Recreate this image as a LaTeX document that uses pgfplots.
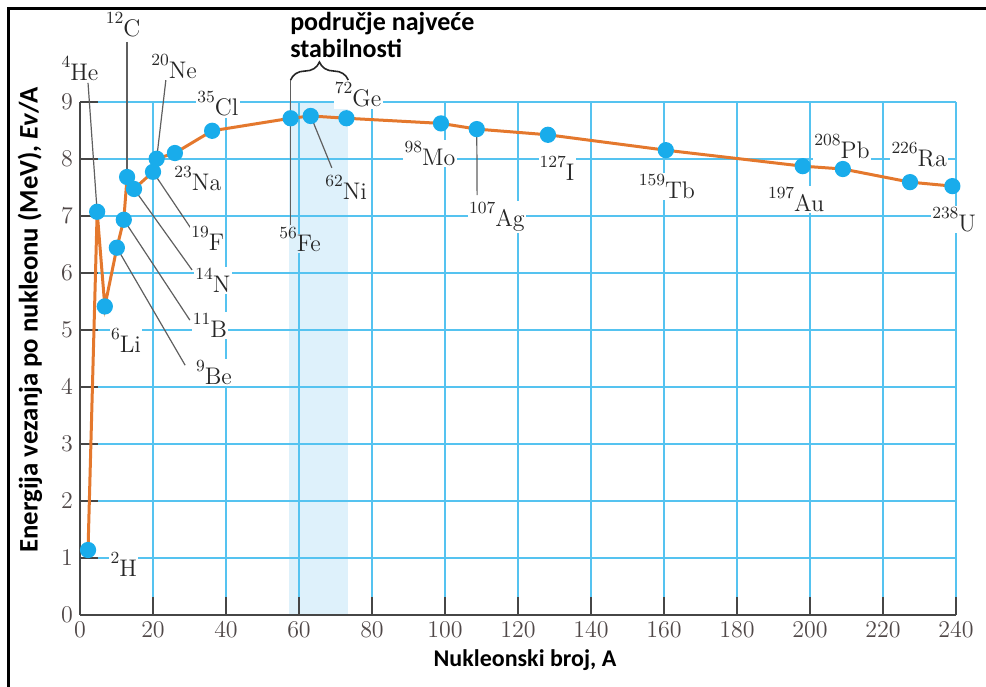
\documentclass[border=0pt]{standalone}
\usepackage{pgfplots}
\pgfplotsset{compat=1.18}
\usepackage{pgfplotstable}
\usepackage{fontspec}
\newfontfamily\carlito{Carlito}
\usetikzlibrary{decorations.pathreplacing}

\definecolor{gridblue}{RGB}{85,195,240}
\definecolor{shade}{RGB}{222,241,251}
\definecolor{curve}{RGB}{228,120,45}
\definecolor{dot}{RGB}{25,172,235}
\definecolor{axgray}{RGB}{70,70,70}
\definecolor{lead}{RGB}{95,95,95}
\definecolor{tickgray}{RGB}{80,72,72}

% nuclide label: mass number raised in front of the symbol
\newcommand\nuc[2]{\raisebox{6.5pt}{\fontsize{8.5}{8.5}\selectfont #1}#2}
\tikzset{lbl/.style={fill=white, inner sep=0.6pt, text=black!85,
    font=\fontsize{12}{12}\selectfont}}

\pgfplotstableread{
A E
2.2 1.14
4.7 7.07
6.8 5.41
10.1 6.44
12.0 6.93
12.9 7.68
14.8 7.47
20.0 7.77
21.0 8.00
26.0 8.10
36.2 8.49
57.7 8.71
63.2 8.75
73.0 8.71
98.9 8.62
108.7 8.52
128.2 8.42
160.5 8.15
198.0 7.87
209.0 7.82
227.4 7.59
239.0 7.52
}\bindata

\begin{document}
\begin{tikzpicture}
\begin{axis}[
    at={(0,0)}, anchor=south west,
    scale only axis, width=438pt, height=256.65pt,
    xmin=0, xmax=240, ymin=0, ymax=9,
    xtick={0,20,...,240}, ytick={0,1,...,9},
    axis lines*=left,
    axis line style={axgray, line width=1.3pt},
    tick align=inside,
    major tick length=9pt,
    tick style={axgray, line width=0.9pt},
    grid=major,
    major grid style={gridblue, line width=1pt},
    ticklabel style={font=\fontsize{12}{12}\selectfont, text=tickgray},
    xlabel={Nukleonski broj, A},
    ylabel={Energija vezanja po nukleonu (MeV), \textit{Ev}/A},
    xlabel style={font=\carlito\bfseries\fontsize{12}{12}\selectfont,
        at={(axis description cs:0.508,-0.0877)}, anchor=center},
    ylabel style={font=\carlito\bfseries\fontsize{13.4}{13.4}\selectfont,
        at={(axis description cs:-0.057,0.575)}, anchor=center},
    clip=false,
    set layers,
]

% region of greatest stability
\addplot[fill=shade, draw=none, on layer=axis background]
    coordinates {(57.2,0) (73.3,0) (73.3,9) (57.2,9)};

% leader lines
\draw[lead, line width=0.6pt] (axis cs:2.2,9.33) -- (axis cs:4.7,7.07);
\draw[lead, line width=0.6pt] (axis cs:12.9,10.05) -- (axis cs:12.9,7.68);
\draw[lead, line width=0.6pt] (axis cs:23.6,9.42) -- (axis cs:21.0,8.00);
\draw[lead, line width=0.6pt] (axis cs:20.0,7.77) -- (axis cs:30.7,6.75);
\draw[lead, line width=0.6pt] (axis cs:14.8,7.47) -- (axis cs:30.7,6.05);
\draw[lead, line width=0.6pt] (axis cs:12.0,6.93) -- (axis cs:30.1,5.17);
\draw[lead, line width=0.6pt] (axis cs:10.1,6.44) -- (axis cs:28.8,4.38);
\draw[lead, line width=0.6pt] (axis cs:57.7,9.40) -- (axis cs:57.7,6.84);
\draw[lead, line width=0.6pt] (axis cs:63.2,8.75) -- (axis cs:69.0,7.84);
\draw[lead, line width=0.6pt] (axis cs:108.7,8.52) -- (axis cs:108.8,7.36);

\draw[black!85, line width=0.8pt, decorate, decoration={brace, amplitude=9pt}]
    (axis cs:57.7,9.38) -- (axis cs:73.5,9.38);

\addplot[curve, line width=1.5pt, mark=*, mark size=3.3pt,
    mark options={draw=dot, fill=dot}] table[x=A, y=E] {\bindata};

% nuclide labels
\node[lbl] at (axis cs:0.0,9.59)    {\nuc{4}{He}};
\node[lbl] at (axis cs:11.8,10.35)  {\nuc{12}{C}};
\node[lbl] at (axis cs:25.8,9.61)   {\nuc{20}{Ne}};
\node[lbl] at (axis cs:37.8,8.96)   {\nuc{35}{Cl}};
\node[lbl] at (axis cs:32.3,7.66)   {\nuc{23}{Na}};
\node[lbl] at (axis cs:35.0,6.61)   {\nuc{19}{F}};
\node[lbl] at (axis cs:36.4,5.87)   {\nuc{14}{N}};
\node[lbl] at (axis cs:35.6,5.08)   {\nuc{11}{B}};
\node[lbl] at (axis cs:36.7,4.26)   {\nuc{9}{Be}};
\node[lbl] at (axis cs:12.6,4.82)   {\nuc{6}{Li}};
\node[lbl] at (axis cs:12.0,0.88)   {\nuc{2}{H}};
\node[lbl, fill=none] (fe) at (axis cs:60.3,6.58) {\nuc{56}{\phantom{Fe}}};
\node[lbl, fill=shade, anchor=base east] at (fe.base east) {Fe};
\node[lbl, fill=none] at (axis cs:72.9,7.49)  {\nuc{62}{Ni}};
\node[lbl] at (axis cs:76.2,9.12)   {\nuc{72}{Ge}};
\node[lbl] at (axis cs:95.9,8.10)   {\nuc{98}{Mo}};
\node[lbl] at (axis cs:114.2,6.98)  {\nuc{107}{Ag}};
\node[lbl] at (axis cs:130.7,7.84)  {\nuc{127}{I}};
\node[lbl] at (axis cs:160.8,7.52)  {\nuc{159}{Tb}};
\node[lbl] at (axis cs:196.2,7.29)  {\nuc{197}{Au}};
\node[lbl] at (axis cs:208.8,8.22)  {\nuc{208}{Pb}};
\node[lbl] at (axis cs:229.9,8.07)  {\nuc{226}{Ra}};
\node[lbl] at (axis cs:239.5,6.93)  {\nuc{238}{U}};

\node[anchor=north west, inner sep=0pt, align=left,
    font=\carlito\bfseries\fontsize{13}{13.5}\selectfont]
    at (axis cs:57.5,10.58) {područje najveće\\stabilnosti};
\end{axis}
\draw[line width=1.5pt] (-35.5pt,-36pt) -- (-35.5pt,303pt) -- (454pt,303pt);
\pgfresetboundingbox
\path[use as bounding box] (-40pt,-35.5pt) rectangle (453pt,307.5pt);
\end{tikzpicture}
\end{document}
